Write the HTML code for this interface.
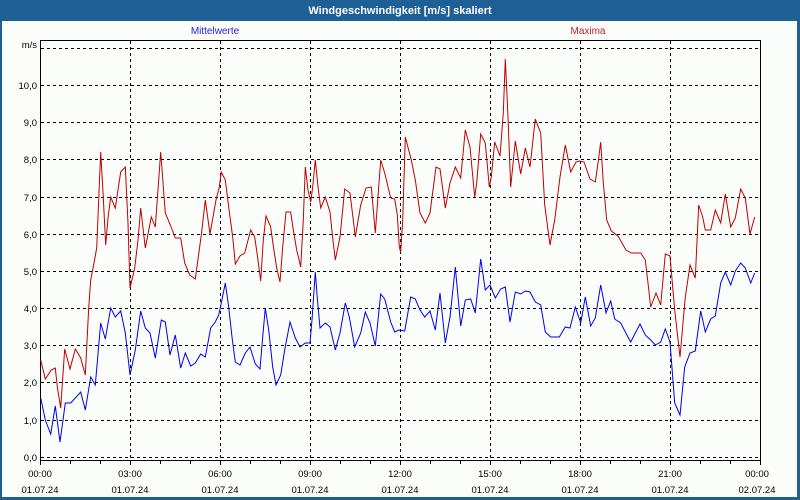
<!DOCTYPE html>
<html><head><meta charset="utf-8"><style>
html,body{margin:0;padding:0;}
body{width:800px;height:500px;overflow:hidden;background:#fbfdfb;}
svg{display:block;font-family:"Liberation Sans",sans-serif;}
</style></head><body>
<svg width="800" height="500" viewBox="0 0 800 500" xmlns="http://www.w3.org/2000/svg">
<rect x="0" y="0" width="800" height="500" fill="#1e6096"/>
<rect x="2" y="21" width="795" height="476" fill="#fbfdfb"/>
<text x="400" y="14" fill="#fff" font-size="11" font-weight="bold" text-anchor="middle">Windgeschwindigkeit [m/s] skaliert</text>
<text x="215" y="34" fill="#2020e0" font-size="10" text-anchor="middle">Mittelwerte</text>
<text x="588" y="34" fill="#c02020" font-size="10" text-anchor="middle">Maxima</text>
<g stroke="#000" stroke-width="1" stroke-dasharray="3,3" fill="none">
<path d="M41 48.5H760M41 85.5H760M41 122.5H760M41 159.5H760M41 197.5H760M41 234.5H760M41 271.5H760M41 308.5H760M41 345.5H760M41 382.5H760M41 420.5H760M41 457.5H760"/>
<path d="M130.5 41V460M220.5 41V460M310.5 41V460M400.5 41V460M490.5 41V460M580.5 41V460M670.5 41V460"/>
</g>
<path d="M40.5 460.5V40.5H760.5V460.5H40.5" stroke="#000" stroke-width="1" fill="none"/>
<path d="M40.5 460V465M70.5 460V464M100.5 460V464M130.5 460V465M160.5 460V464M190.5 460V464M220.5 460V465M250.5 460V464M280.5 460V464M310.5 460V465M340.5 460V464M370.5 460V464M400.5 460V465M430.5 460V464M460.5 460V464M490.5 460V465M520.5 460V464M550.5 460V464M580.5 460V465M610.5 460V464M640.5 460V464M670.5 460V465M700.5 460V464M730.5 460V464M760.5 460V465" stroke="#000"/>
<g font-size="9.5" fill="#000" text-anchor="end">
<text x="37" y="48">m/s</text>
<text x="37" y="89">10,0</text><text x="37" y="126">9,0</text><text x="37" y="163">8,0</text><text x="37" y="201">7,0</text><text x="37" y="238">6,0</text><text x="37" y="275">5,0</text><text x="37" y="312">4,0</text><text x="37" y="349">3,0</text><text x="37" y="386">2,0</text><text x="37" y="424">1,0</text><text x="37" y="461">0,0</text>
</g>
<g font-size="9.5" fill="#000" text-anchor="middle">
<text x="40" y="477">00:00</text><text x="40" y="493">01.07.24</text>
<text x="130" y="477">03:00</text><text x="130" y="493">01.07.24</text>
<text x="220" y="477">06:00</text><text x="220" y="493">01.07.24</text>
<text x="310" y="477">09:00</text><text x="310" y="493">01.07.24</text>
<text x="400" y="477">12:00</text><text x="400" y="493">01.07.24</text>
<text x="490" y="477">15:00</text><text x="490" y="493">01.07.24</text>
<text x="580" y="477">18:00</text><text x="580" y="493">01.07.24</text>
<text x="670" y="477">21:00</text><text x="670" y="493">01.07.24</text>
<text x="757" y="477">00:00</text><text x="757" y="493">02.07.24</text>
</g>
<polyline fill="none" stroke="#c00000" stroke-width="1" points="40.7,360 45.3,379 51.3,370 55.3,368 57.3,387 60.7,408 64.7,349 70,369 75.3,349 80.7,358 85.3,375 88.7,308 90.7,280 94,263 96.7,248 100.7,152 103.3,198 105.7,245 108,218 110.7,197 115.3,208 120.7,172 125.3,167 128,223 130,288 134.7,268 138,240 140.7,208 145.3,248 151.3,217 155.3,227 160.7,152 165.3,213 170.7,226 175.3,238 180.7,238 184.7,263 189.7,275 195.3,279 201.3,235 205.3,200 210,234 216,200 219.3,187 221.3,172 225.3,180 230,217 232.7,237 235.3,264 240,256 244.7,253 250.7,230 254.7,237 257.3,255 260.7,281 263.3,240 266,216 270.7,227 273.3,246 276.7,268 280,282 282.7,247 286,212 290.7,212 293.3,230 296.7,250 300.7,267 303.3,220 305.3,167 308,190 310.7,202 312.7,187 315.3,160 318,187 320.7,208 325.3,197 330,212 332.7,238 335.3,260 340,237 344.7,189 350,193 355.3,237 360.7,205 366,188 371.3,187 375.3,233 380.7,160 384.7,173 390.7,198 394.7,199 397.3,215 399.3,247 400.7,252 402.7,220 405.3,137 411.3,160 415.3,180 420,213 425.3,223 430,213 436,167 440,169 445.3,208 450,183 455.3,167 460.7,178 465.3,130 470,147 474.7,197 476.7,183 480.7,134 485.3,143 489.3,187 491.3,177 494.7,142 500,156 503.3,113 505.3,59 508,117 510.7,187 515.3,141 520.7,174 525.3,148 530,167 535.3,119 540.7,133 544.7,205 550,245 554.7,220 560,177 565.3,145 570.7,172 576,162 579.3,161 584,162 590,179 595.3,182 598.7,158 600.7,142 603.3,183 606.7,220 611.3,231 618,236 626,250 631.3,253 640.7,253 645.3,260 648,283 650.7,307 656,293 660.7,305 665.3,254 670,256 674.7,310 680,357 685.3,297 690,265 695.3,278 698.7,205 702.7,217 705.3,230 710.7,230 715.3,210 720.7,223 725.3,194 730.7,227 735.3,218 740.7,189 745.3,198 750,234 754.7,217"/>
<polyline fill="none" stroke="#0000ee" stroke-width="1" points="40.7,398 45.3,420 50.7,434 55.3,406 60,442 65.3,403 70.7,403 80.7,392 85.3,410 90.7,377 95.3,385 100.7,323 105.3,339 110.7,308 115.3,317 120.7,311 125.3,333 130,375 135.3,350 140.7,311 145.3,328 150,333 155.3,358 161.3,320 165.3,322 170,355 175.3,335 180.7,368 185.3,353 190.7,366 195.3,363 200.7,354 205.3,357 210.7,328 215.3,322 218.7,315 221.3,303 225.3,283 228.7,307 232,337 235.3,362 240,365 245.3,353 250,347 255.3,364 260,369 262.7,337 265.3,308 268.7,330 272.7,367 276,385 280.7,375 284.7,350 290,322 295.3,338 300,347 305.3,343 310,343 312,320 315.3,272 317.3,298 320,328 325.3,323 330,327 335.3,350 340,333 345.3,303 349.3,317 354.7,347 360.7,333 365.3,312 370,323 375.3,346 380.7,294 384.7,299 390.7,322 394.7,332 398.7,330 404.7,331 410.7,297 415.3,299 420,310 424.7,317 430,311 435.3,330 440,293 445.3,343 450,317 455.3,267 460.7,326 465.3,300 470.7,299 475.3,313 480.7,259 485.3,290 490,285 495.3,298 500.7,289 505.3,287 510,322 515.3,292 520.7,294 525.3,291 530,292 535.3,302 540.7,305 545.3,332 550.7,337 559.3,337 565.3,327 570,328 575.3,307 578.7,317 580.7,323 585.3,297 590.7,326 595.3,318 600.7,285 606,313 610.7,301 614.7,319 620.7,323 625.3,332 630.7,342 635.3,333 640,324 645.3,335 650.7,340 655.3,345 660.7,342 665.3,329 670,342 674.7,403 680,415 684.7,367 690,353 695.3,351 700.7,311 705.3,332 710.7,319 715.3,316 720.7,283 725.3,272 730.7,285 735.3,271 740.7,263 745.3,268 750.7,283 754.7,273"/>
</svg>
</body></html>
